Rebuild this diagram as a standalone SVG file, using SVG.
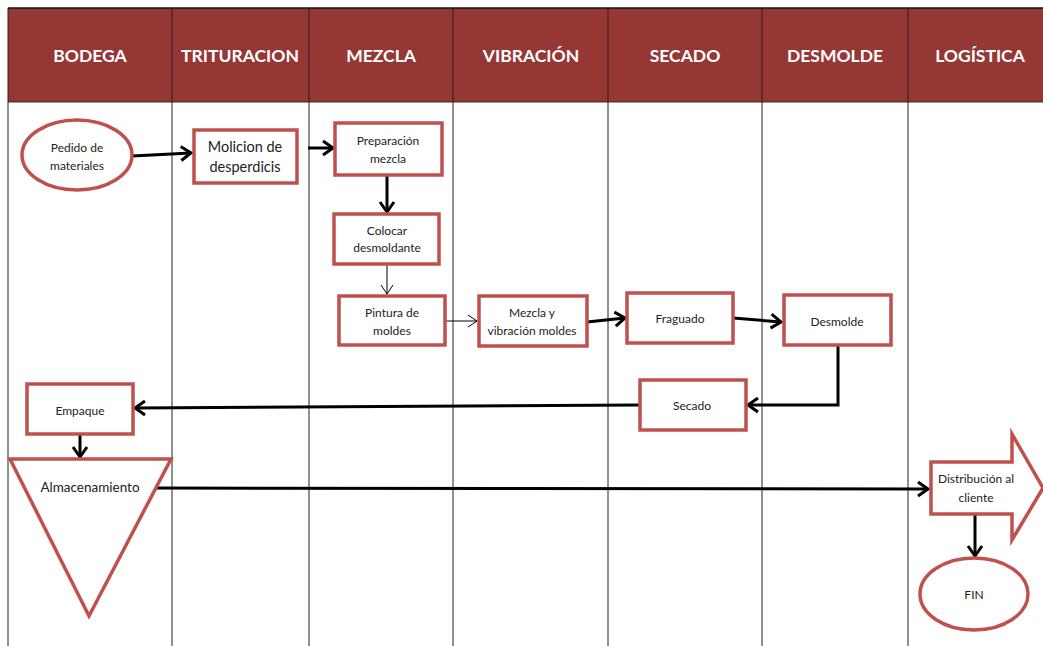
<svg xmlns="http://www.w3.org/2000/svg" width="1043" height="646" viewBox="0 0 1043 646">
<style>
.hdr{font-family:Lato,"Open Sans","Liberation Sans",sans-serif;font-weight:bold;font-size:17.5px;fill:#fff;text-anchor:middle}
.lane{stroke:#222;stroke-width:1;fill:none}
.box{fill:#fff;stroke:#C0504D;stroke-width:3.5}
.t{font-family:Lato,"Open Sans","Liberation Sans",sans-serif;font-size:12px;fill:#222;text-anchor:middle}
.tb{font-size:14.5px}
.thick{stroke:#000;stroke-width:3;fill:none}
.thin{stroke:#000;stroke-width:1;fill:none}
</style>
<defs>
<marker id="ah" markerUnits="userSpaceOnUse" markerWidth="16" markerHeight="18" refX="13" refY="9" orient="auto">
<path d="M3,2 L13,9 L3,16" fill="none" stroke="#000" stroke-width="3"/>
</marker>
<marker id="ahs" markerUnits="userSpaceOnUse" markerWidth="12" markerHeight="14" refX="10" refY="7" orient="auto">
<path d="M1,1 L10,7 L1,13" fill="none" stroke="#000" stroke-width="1"/>
</marker>
</defs>
<rect x="0" y="0" width="1043" height="646" fill="#fff"/>
<g id="header">
<rect x="8" y="8" width="1035" height="94" fill="#953735"/>
<line x1="8" y1="8" x2="1043" y2="8" stroke="#111" stroke-width="1.5"/>
<line x1="8" y1="102" x2="1043" y2="102" stroke="#333" stroke-width="1"/>
<text class="hdr" x="90" y="62">BODEGA</text>
<text class="hdr" x="240" y="62">TRITURACION</text>
<text class="hdr" x="381" y="62">MEZCLA</text>
<text class="hdr" x="531" y="62">VIBRACIÓN</text>
<text class="hdr" x="685" y="62">SECADO</text>
<text class="hdr" x="835" y="62">DESMOLDE</text>
<text class="hdr" x="980" y="62">LOGÍSTICA</text>
</g>
<g id="lanes">
<line class="lane" x1="8" y1="8" x2="8" y2="646"/>
<line class="lane" x1="172" y1="8" x2="172" y2="646"/>
<line class="lane" x1="309" y1="8" x2="309" y2="646"/>
<line class="lane" x1="453" y1="8" x2="453" y2="646"/>
<line class="lane" x1="608" y1="8" x2="608" y2="646"/>
<line class="lane" x1="762" y1="8" x2="762" y2="646"/>
<line class="lane" x1="908" y1="8" x2="908" y2="646"/>
</g>
<g id="connectors">
<path class="thick" d="M132,156 L191,153" marker-end="url(#ah)"/>
<path class="thick" d="M308,148 L333,148" marker-end="url(#ah)"/>
<path class="thick" d="M387,175 L387,212" marker-end="url(#ah)"/>
<path class="thin" d="M387,264 L387,294" marker-end="url(#ahs)"/>
<path class="thin" d="M445,321 L477,321" marker-end="url(#ahs)"/>
<path class="thick" d="M587,322 L625,318" marker-end="url(#ah)"/>
<path class="thick" d="M733,318 L781,322" marker-end="url(#ah)"/>
<path class="thick" d="M838,345 L838,405 L748,405" marker-end="url(#ah)"/>
<path class="thick" d="M639,405 L135,408" marker-end="url(#ah)"/>
<path class="thick" d="M80,434 L80,457" marker-end="url(#ah)"/>
<path class="thick" d="M157,488 L928,489" marker-end="url(#ah)"/>
<path class="thick" d="M975,510 L975,556" marker-end="url(#ah)"/>
</g>
<g id="pedido">
<ellipse class="box" cx="77" cy="155" rx="55" ry="35"/>
<text class="t" x="77" y="152">Pedido de</text>
<text class="t" x="77" y="170">materiales</text>
</g>
<g id="molicion">
<rect class="box" x="194" y="130" width="103" height="53"/>
<text class="t tb" x="245" y="152">Molicion de</text>
<text class="t tb" x="245" y="172">desperdicis</text>
</g>
<g id="preparacion">
<rect class="box" x="335" y="123" width="107" height="52"/>
<text class="t" x="388" y="145">Preparación</text>
<text class="t" x="388" y="163">mezcla</text>
</g>
<g id="colocar">
<rect class="box" x="334" y="214" width="105" height="50"/>
<text class="t" x="387" y="235">Colocar</text>
<text class="t" x="387" y="252">desmoldante</text>
</g>
<g id="pintura">
<rect class="box" x="339" y="296" width="106" height="49"/>
<text class="t" x="392" y="317">Pintura de</text>
<text class="t" x="392" y="335">moldes</text>
</g>
<g id="mezcla_vibracion">
<rect class="box" x="479" y="296" width="108" height="50"/>
<text class="t" x="532" y="317">Mezcla y</text>
<text class="t" x="532" y="335">vibración moldes</text>
</g>
<g id="fraguado">
<rect class="box" x="627" y="293" width="106" height="50"/>
<text class="t" x="680" y="323">Fraguado</text>
</g>
<g id="desmolde">
<rect class="box" x="784" y="295" width="107" height="50"/>
<text class="t" x="837" y="326">Desmolde</text>
</g>
<g id="secado">
<rect class="box" x="640" y="380" width="106" height="50"/>
<text class="t" x="692" y="410">Secado</text>
</g>
<g id="empaque">
<rect class="box" x="27" y="384" width="106" height="50"/>
<text class="t" x="80" y="415">Empaque</text>
</g>
<g id="almacenamiento">
<polygon class="box" points="10,459 171,459 89,616"/>
<text class="t" x="90" y="492" style="font-size:13.5px">Almacenamiento</text>
</g>
<g id="distribucion">
<polygon class="box" points="931,462 1012,462 1012,434 1043,488 1012,540 1012,514 931,514"/>
<text class="t" x="976" y="483">Distribución al</text>
<text class="t" x="976" y="502">cliente</text>
</g>
<g id="fin">
<ellipse class="box" cx="974" cy="594" rx="54" ry="36"/>
<text class="t" x="974" y="599">FIN</text>
</g>
</svg>
